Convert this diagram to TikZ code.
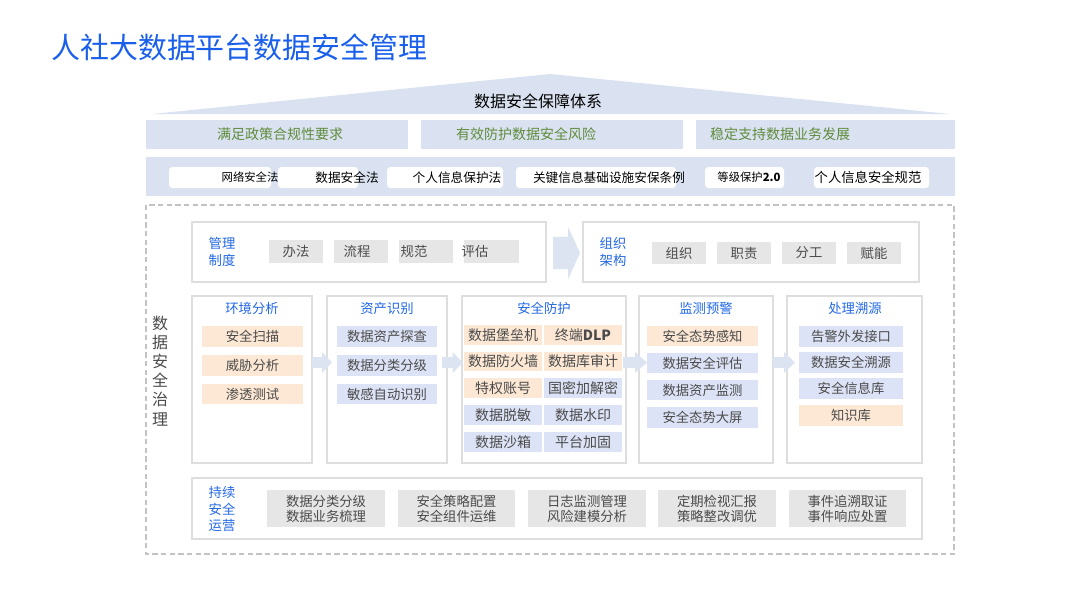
\documentclass[tikz,border=0pt]{standalone}
\usepackage{fontspec}
\setmainfont{Noto Sans CJK SC}
\definecolor{roofc}{RGB}{218,226,241}
\definecolor{titleblue}{RGB}{25,95,235}
\definecolor{headblue}{RGB}{35,105,230}
\definecolor{greenc}{RGB}{95,140,60}
\definecolor{orangec}{RGB}{252,232,212}
\definecolor{lavc}{RGB}{221,227,246}
\definecolor{grayc}{RGB}{230,230,230}
\definecolor{framec}{RGB}{222,222,222}
\definecolor{txtc}{RGB}{75,75,75}
\definecolor{arrc}{RGB}{220,227,241}
\definecolor{dashc}{RGB}{195,195,195}
\newcommand\fsz[2]{\fontsize{#1}{#2}\selectfont}
% name, style, x1, y1, x2, y2, text
\newcommand\BX[7]{\node[#2,inner sep=0pt,minimum width={(#5-#3)*0.75pt},minimum height={(#6-#4)*0.75pt}] (#1) at ({(#3+#5)/2},{(#4+#6)/2}) {#7};}
% block arrow: x1, x2, yc, h, body half-height fraction, body length fraction
\newcommand\FA[6]{\fill[arrc] (#1,{#3-#5*#4}) -- ({#1+#6*(#2-#1)},{#3-#5*#4}) -- ({#1+#6*(#2-#1)},{#3-0.5*#4}) -- (#2,#3) -- ({#1+#6*(#2-#1)},{#3+0.5*#4}) -- ({#1+#6*(#2-#1)},{#3+#5*#4}) -- (#1,{#3+#5*#4}) -- cycle;}
\tikzset{
  rowbox/.style={fill=roofc,draw=none},
  lawbox/.style={fill=white,draw=none,rounded corners=2.5pt},
  frame/.style={fill=white,draw=framec,line width=0.8pt},
  gbox/.style={fill=grayc,draw=none,text=txtc,font=\fsz{10pt}{12pt}},
  obox/.style={fill=orangec,draw=none,text=txtc,font=\fsz{10pt}{12pt}},
  lbox/.style={fill=lavc,draw=none,text=txtc,font=\fsz{10pt}{12pt}},
  obig/.style={obox,font=\fsz{10.5pt}{12pt}},
  lbig/.style={lbox,font=\fsz{10.5pt}{12pt}},
  head/.style={text=headblue,font=\fsz{10pt}{12pt}},
  side/.style={text=headblue,font=\fsz{10pt}{13pt},align=center},
  gtxt/.style={text=greenc,font=\fsz{10.5pt}{12pt}},
  lawtxt/.style={text=black,inner sep=0pt},
  twoline/.style={gbox,align=center,font=\fsz{10pt}{11.3pt}},
}
\begin{document}
\begin{tikzpicture}[x=0.75pt,y=-0.75pt]
\fill[white] (0,0) rectangle (1080,608);
\useasboundingbox (0,0) rectangle (1080,608);

% title
\node[anchor=west,inner sep=0pt,text=titleblue,font=\fsz{21.7pt}{24pt}] (title) at (51,47) {人社大数据平台数据安全管理};

% roof
\fill[roofc] (152,114) -- (550,74) -- (950,114) -- cycle;
\node[inner sep=0pt,font=\fsz{12pt}{14pt}] (roof) at (538,101) {数据安全保障体系};

% goals row
\BX{g1}{rowbox}{146}{120}{408}{149}{}
\BX{g2}{rowbox}{421}{120}{683}{149}{}
\BX{g3}{rowbox}{696}{120}{955}{149}{}
\node[gtxt] (g1t) at (280,134.5) {满足政策合规性要求};
\node[gtxt] (g2t) at (526,134.5) {有效防护数据安全风险};
\node[gtxt] (g3t) at (780,134.5) {稳定支持数据业务发展};

% laws row
\BX{laws}{rowbox}{146}{157}{955}{196}{}
\BX{la}{lawbox}{169}{167}{271}{188}{}
\BX{lb}{lawbox}{278}{167}{358}{188}{}
\BX{lc}{lawbox}{387}{167}{503}{188}{}
\BX{ld}{lawbox}{516}{167}{676}{188}{}
\BX{le}{lawbox}{705}{167}{784}{188}{}
\BX{lf}{lawbox}{814}{167}{929}{188}{}
\node[lawtxt,font=\fsz{8.5pt}{10pt}] (lat) at (250,177.5) {网络安全法};
\node[lawtxt,font=\fsz{9.5pt}{11pt}] (lbt) at (347,177.5) {数据安全法};
\node[lawtxt,font=\fsz{9.5pt}{11pt}] (lct) at (457,177.5) {个人信息保护法};
\node[lawtxt,font=\fsz{9.5pt}{11pt}] (ldt) at (609,177.5) {关键信息基础设施安保条例};
\node[lawtxt,font=\fsz{8.5pt}{10pt}] (let) at (749,177.5) {等级保护\textbf{2.0}};
\node[lawtxt,font=\fsz{10pt}{11pt}] (lft) at (868,177.5) {个人信息安全规范};

% governance dashed frame
\draw[dashc,line width=0.8pt,dash pattern=on 4pt off 2.5pt] (146,205) rectangle (954,554);
\node[text=txtc,align=center,font=\fsz{12pt}{14.3pt},inner sep=0pt] (gov) at (160,371) {数\\据\\安\\全\\治\\理};

% management system
\BX{mg}{frame}{192}{222}{546}{282}{}
\node[side] (mgl) at (222,252) {管理\\制度};
\BX{m1}{gbox}{269}{240}{323}{263}{办法}
\BX{m2}{gbox}{334}{240}{388}{263}{}
\BX{m3}{gbox}{399}{240}{453}{263}{}
\BX{m4}{gbox}{464}{240}{519}{263}{}
\node[text=txtc,font=\fsz{10pt}{12pt},inner sep=0pt] (m2t) at (357,251.5) {流程};
\node[text=txtc,font=\fsz{10pt}{12pt},inner sep=0pt] (m3t) at (414,251.5) {规范};
\node[text=txtc,font=\fsz{10pt}{12pt},inner sep=0pt] (m4t) at (475,251.5) {评估};

% big arrow
\FA{553}{580}{253}{52}{0.31}{0.56}

% organization
\BX{og}{frame}{583}{222}{919}{282}{}
\node[side] (ogl) at (613,252) {组织\\架构};
\BX{o1}{gbox}{652}{242}{706}{264}{组织}
\BX{o2}{gbox}{717}{242}{771}{264}{职责}
\BX{o3}{gbox}{782}{242}{836}{264}{分工}
\BX{o4}{gbox}{847}{242}{901}{264}{赋能}

% five columns
\BX{c1}{frame}{192}{296}{312}{463}{}
\BX{c2}{frame}{327}{296}{447}{463}{}
\BX{c3}{frame}{462}{296}{626}{463}{}
\BX{c4}{frame}{639}{296}{773}{463}{}
\BX{c5}{frame}{787}{296}{922}{463}{}
\node[head] (c1h) at (252,308) {环境分析};
\node[head] (c2h) at (387,308) {资产识别};
\node[head] (c3h) at (544,308) {安全防护};
\node[head] (c4h) at (706,308) {监测预警};
\node[head] (c5h) at (855,308) {处理溯源};

\BX{a1}{obox}{202}{326}{303}{347}{安全扫描}
\BX{a2}{obox}{202}{355}{303}{376}{威胁分析}
\BX{a3}{obox}{202}{384}{303}{404}{渗透测试}

\BX{b1}{lbox}{337}{326}{437}{347}{数据资产探查}
\BX{b2}{lbox}{337}{355}{437}{376}{数据分类分级}
\BX{b3}{lbox}{337}{384}{437}{404}{敏感自动识别}

\BX{p1}{obig}{464}{325}{542}{345}{数据堡垒机}
\BX{p2}{obig}{544}{325}{622}{345}{终端\textbf{DLP}}
\BX{p3}{obig}{464}{352}{542}{371}{数据防火墙}
\BX{p4}{obig}{544}{352}{622}{371}{数据库审计}
\BX{p5}{obig}{464}{378}{542}{398}{特权账号}
\BX{p6}{lbig}{544}{378}{622}{398}{国密加解密}
\BX{p7}{lbig}{464}{405}{542}{425}{数据脱敏}
\BX{p8}{lbig}{544}{405}{622}{425}{数据水印}
\BX{p9}{lbig}{464}{432}{542}{452}{数据沙箱}
\BX{p10}{lbig}{544}{432}{622}{452}{平台加固}

\BX{d1}{obox}{647}{326}{758}{346}{安全态势感知}
\BX{d2}{lbox}{647}{353}{758}{373}{数据安全评估}
\BX{d3}{lbox}{647}{380}{758}{400}{数据资产监测}
\BX{d4}{lbox}{647}{407}{758}{428}{安全态势大屏}

\BX{e1}{lbox}{799}{326}{903}{347}{告警外发接口}
\BX{e2}{lbox}{799}{352}{903}{373}{数据安全溯源}
\BX{e3}{lbox}{799}{378}{903}{399}{安全信息库}
\BX{e4}{obox}{799}{405}{903}{426}{知识库}

% column arrows
\FA{312}{332}{362.5}{21}{0.26}{0.5}
\FA{442}{463}{362.5}{21}{0.26}{0.5}
\FA{623}{647}{362.5}{21}{0.26}{0.5}
\FA{773}{795}{362.5}{21}{0.26}{0.5}

% continuous operation
\BX{op}{frame}{192}{478}{922}{539}{}
\node[side,font=\fsz{10pt}{12.5pt}] (opl) at (222,509) {持续\\安全\\运营};
\BX{q1}{twoline}{267}{490}{385}{527}{数据分类分级\\数据业务梳理}
\BX{q2}{twoline}{398}{490}{515}{527}{安全策略配置\\安全组件运维}
\BX{q3}{twoline}{528}{490}{646}{527}{日志监测管理\\风险建模分析}
\BX{q4}{twoline}{658}{490}{776}{527}{定期检视汇报\\策略整改调优}
\BX{q5}{twoline}{789}{490}{906}{527}{事件追溯取证\\事件响应处置}
\end{tikzpicture}
\end{document}
